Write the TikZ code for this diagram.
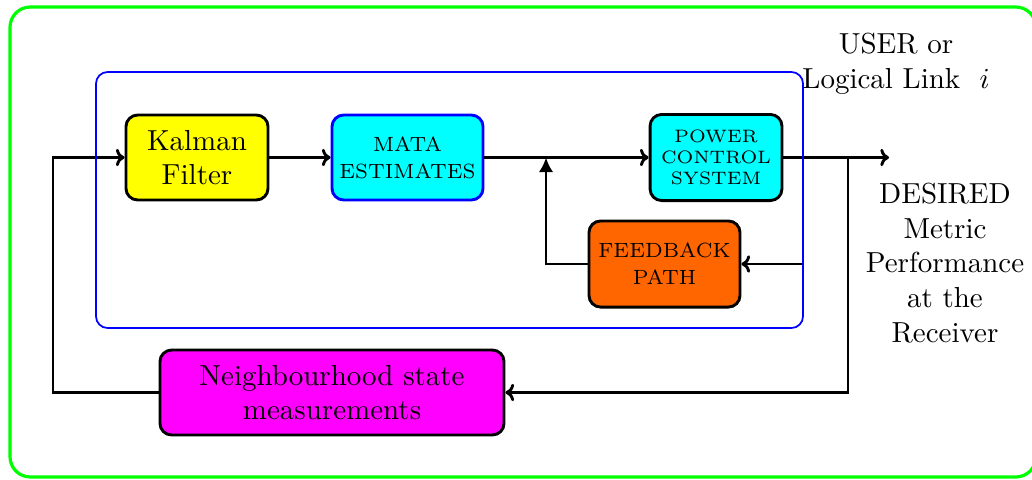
\documentclass[tikz,border=0pt]{standalone}
\usetikzlibrary{arrows.meta}
\definecolor{myyellow}{RGB}{255,255,0}
\definecolor{mycyan}{RGB}{0,255,255}
\definecolor{myorange}{RGB}{255,102,0}
\definecolor{mymagenta}{RGB}{255,0,255}
\definecolor{mygreen}{RGB}{0,255,0}
\definecolor{myblue}{RGB}{0,0,255}
\begin{document}
\begin{tikzpicture}[x=0.345pt,y=-0.345pt,
  blk/.style={draw=black,line width=1pt,rounded corners=4pt,align=center,inner sep=1pt,minimum height=29.3pt},
  smallf/.style={font=\fontsize{7.1}{9.3}\selectfont},
  tinyf/.style={font=\fontsize{6.2}{7.3}\selectfont},
  conn/.style={line width=1pt,-{To[length=3pt,width=6pt]}},
  connf/.style={line width=1pt,-{Latex[length=5pt,width=5pt]}}]
\useasboundingbox (0,0) rectangle (1032,479);
\draw[mygreen,line width=1.1pt,rounded corners=7pt] (10,7) rectangle (1036,477);
\node[blk,fill=myyellow,minimum width=49pt] (kal) at (197,157.5) {Kalman\\Filter};
\node[blk,fill=mycyan,draw=myblue,minimum width=52.1pt,smallf] (mata) at (407.5,157.5) {MATA\\ESTIMATES};
\node[blk,fill=mycyan,minimum width=45.5pt,minimum height=29.7pt,tinyf] (power) at (716,157.5) {POWER\\CONTROL\\SYSTEM};
\node[blk,fill=myorange,minimum width=52.1pt,minimum height=29.7pt,smallf] (fb) at (664.5,264) {FEEDBACK\\PATH};
\node[blk,fill=mymagenta,minimum width=118.7pt] (neigh) at (332,392.5) {Neighbourhood state\\measurements};
\node[align=center] (user) at (896,64) {USER or\\Logical Link \ $i$};
\node[align=center] (desired) at (945,263) {DESIRED\\Metric\\Performance\\at the\\Receiver};
\coordinate (L1) at (53,157.5);
\coordinate (J) at (546,157.5);
\coordinate (R1) at (803,157.5);
\coordinate (R2) at (848,157.5);
\coordinate (out) at (889,157.5);
\draw[conn] (neigh.west) -| (L1) -- (kal.west);
\draw[conn] (kal.east) -- (mata.west);
\draw[conn] (mata.east) -- (power.west);
\draw[connf] (fb.west) -| (J);
\draw[conn] (power.east) -- (out);
\draw[conn] (R1) |- (fb.east);
\draw[conn] (R2) |- (neigh.east);
\draw[myblue,line width=0.6pt,rounded corners=4pt] (96,72) rectangle (803,328);
\end{tikzpicture}
\end{document}
